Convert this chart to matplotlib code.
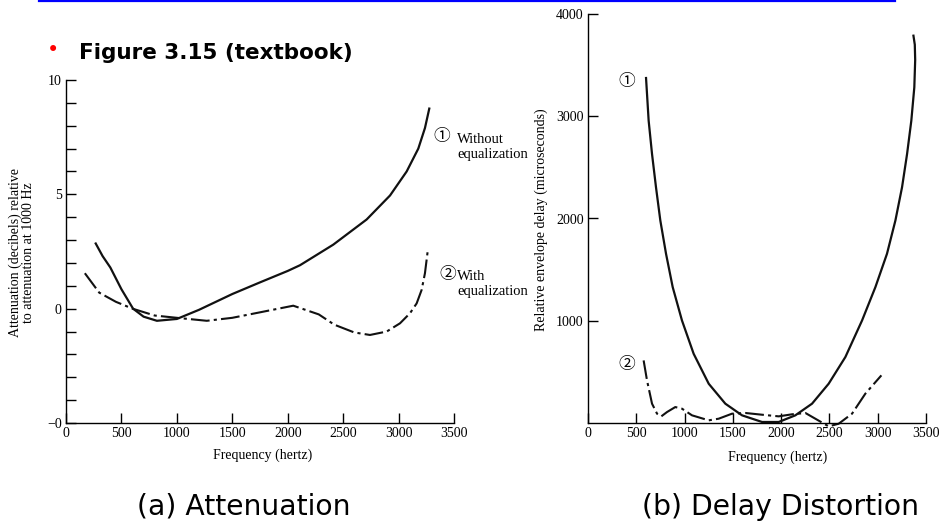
import matplotlib
matplotlib.use("Agg")
import matplotlib.pyplot as plt
from matplotlib.lines import Line2D
from matplotlib.ticker import MultipleLocator

# (a) attenuation, dB relative to 1000 Hz
att_freq_1 = [268, 330, 400, 500, 605, 700, 820, 1000, 1200, 1500, 1750, 2000,
              2111, 2411, 2712, 2923, 3073, 3178, 3238, 3277]
att_db_1 = [2.85, 2.3, 1.8, 0.85, 0.0, -0.35, -0.53, -0.45, -0.05, 0.64, 1.15, 1.65,
            1.9, 2.8, 3.9, 4.95, 6.0, 7.0, 7.9, 8.75]
att_freq_2 = [170, 300, 450, 600, 800, 1000, 1270, 1500, 1750, 2050, 2280,
              2420, 2600, 2742, 2893, 3013, 3103, 3163, 3208, 3238, 3262]
att_db_2 = [1.55, 0.7, 0.3, 0.0, -0.3, -0.4, -0.53, -0.4, -0.16, 0.13, -0.25,
            -0.7, -1.04, -1.15, -1.0, -0.64, -0.2, 0.23, 0.82, 1.55, 2.49]

# (b) relative envelope delay, microseconds
dly_freq_1 = [601, 628, 663, 704, 749, 808, 877, 973, 1094, 1250, 1422, 1595, 1802,
              1975, 2147, 2320, 2492, 2665, 2838, 2976, 3096, 3183, 3252, 3304,
              3348, 3379, 3388, 3384, 3370]
dly_us_1 = [3374, 2957, 2631, 2306, 1980, 1655, 1329, 1003, 677, 384, 189, 75, 10,
            10, 75, 189, 384, 645, 1003, 1329, 1655, 1980, 2306, 2631,
            2957, 3283, 3550, 3700, 3788]
dly_freq_2 = [576, 611, 663, 715, 759, 818, 904, 973, 1077, 1250, 1353, 1491, 1629,
              1802, 1975, 2112, 2251, 2354, 2492, 2596, 2734, 2872, 3038]
dly_us_2 = [612, 417, 189, 91, 65, 107, 156, 140, 75, 26, 42, 91, 98,
            81, 65, 85, 98, 42, -33, -7, 91, 287, 466]

freq_ticks = [0, 500, 1000, 1500, 2000, 2500, 3000, 3500]
att_ticks = [-5, 0, 5, 10]
att_tick_labels = ['\u22120', '0', '5', '10']
dly_ticks = [1000, 2000, 3000, 4000]

serif = ['Liberation Serif', 'Noto Sans CJK JP', 'DejaVu Sans']
sans = ['DejaVu Sans']
dashdot = (0, (9, 2, 1.5, 2))

fig = plt.figure(figsize=(9.4, 5.23), dpi=100)


def style_axes(ax):
    for s in ['top', 'right']:
        ax.spines[s].set_visible(False)
    for s in ['left', 'bottom']:
        ax.spines[s].set_linewidth(1.0)
    ax.tick_params(which='both', direction='in', length=7, width=1.0,
                   labelsize=10, pad=3)
    for lab in ax.get_xticklabels() + ax.get_yticklabels():
        lab.set_family(serif)


# ---- (a) Attenuation
ax1 = fig.add_axes([66 / 940, 100 / 523, 388 / 940, 343 / 523])
ax1.plot(att_freq_1, att_db_1, color='#111111', lw=1.6)
ax1.plot(att_freq_2, att_db_2, color='#111111', lw=1.5, linestyle=dashdot)
ax1.set_xlim(0, 3500)
ax1.set_ylim(-5, 10)
ax1.set_xticks(freq_ticks)
ax1.set_yticks(att_ticks)
ax1.set_yticklabels(att_tick_labels)
ax1.yaxis.set_minor_locator(MultipleLocator(1))
style_axes(ax1)
ax1.set_xlabel('Frequency (hertz)', family=serif, fontsize=10)
ax1.xaxis.set_label_coords(0.508, -0.075)
ax1.set_ylabel('Attenuation (decibels) relative\nto attenuation at 1000 Hz',
               family=serif, fontsize=10, linespacing=0.95)
ax1.yaxis.set_label_coords(-0.08, 0.496)

ax1.text(3392, 7.5, '\u2460', family=serif, fontsize=12, ha='center', va='center',
         clip_on=False)
ax1.text(3527, 7.24, 'Without', family=serif, fontsize=10.5, va='baseline',
         clip_on=False)
ax1.text(3527, 6.59, 'equalization', family=serif, fontsize=10.5, va='baseline',
         clip_on=False)
ax1.text(3446, 1.47, '\u2461', family=serif, fontsize=12, ha='center', va='center',
         clip_on=False)
ax1.text(3527, 1.25, 'With', family=serif, fontsize=10.5, va='baseline',
         clip_on=False)
ax1.text(3527, 0.6, 'equalization', family=serif, fontsize=10.5, va='baseline',
         clip_on=False)

# ---- (b) Delay distortion
ax2 = fig.add_axes([588 / 940, 100 / 523, 338 / 940, 409 / 523])
ax2.plot(dly_freq_1, dly_us_1, color='#111111', lw=1.6)
ax2.plot(dly_freq_2, dly_us_2, color='#111111', lw=1.5, linestyle=dashdot,
         clip_on=False)
ax2.set_xlim(0, 3500)
ax2.set_ylim(0, 4000)
ax2.set_xticks(freq_ticks)
ax2.set_yticks(dly_ticks)
style_axes(ax2)
ax2.set_xlabel('Frequency (hertz)', family=serif, fontsize=10)
ax2.xaxis.set_label_coords(0.56, -0.067)
ax2.set_ylabel('Relative envelope delay (microseconds)', family=serif, fontsize=10)
ax2.yaxis.set_label_coords(-0.118, 0.496)

ax2.text(400, 3335, '\u2460', family=serif, fontsize=12, ha='center', va='center')
ax2.text(400, 570, '\u2461', family=serif, fontsize=12, ha='center', va='center')

# ---- slide decorations
fig.add_artist(Line2D([39 / 940, 895 / 940], [1 - 1.2 / 523] * 2,
                      color='#0000ff', lw=1.6))
fig.text(53 / 940, 1 - 50 / 523, '\u2022', color='red', ha='center', va='center',
         fontsize=15)
fig.text(79 / 940, 1 - 59 / 523, 'Figure 3.15 (textbook)', family=sans,
         fontweight='bold', fontsize=15.5, va='baseline')
fig.text(244 / 940, 1 - 515 / 523, '(a) Attenuation', family=sans,
         fontsize=20.3, ha='center', va='baseline')
fig.text(780 / 940, 1 - 515 / 523, '(b) Delay Distortion', family=sans,
         fontsize=20.3, ha='center', va='baseline')

fig.savefig('out.png', dpi=100)
